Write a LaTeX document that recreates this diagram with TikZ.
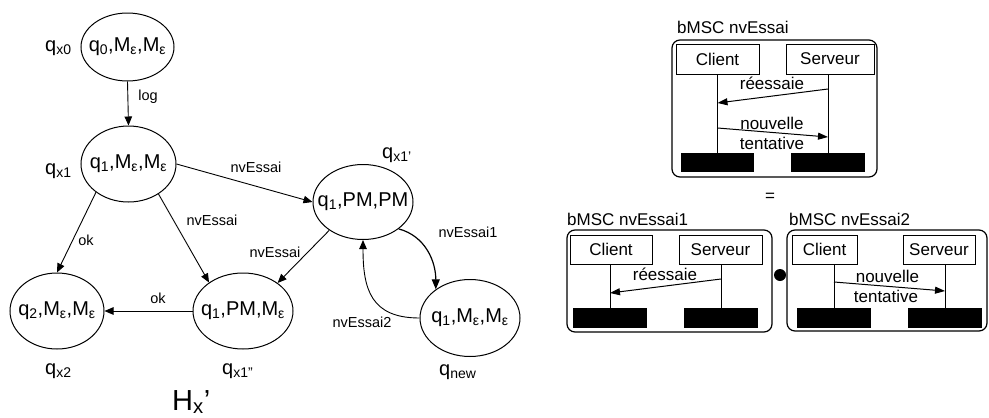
\documentclass[tikz,border=0pt]{standalone}
\usepackage{fontspec}
\setmainfont{Liberation Sans}
\usetikzlibrary{shapes.geometric,arrows.meta}
\newcommand\sbs[1]{\textsubscript{#1}}
\newcommand\zb[1]{\makebox[0pt]{#1}}
\begin{document}
\begin{tikzpicture}[x=1pt,y=-1pt,
  st/.style={ellipse,draw,line width=1pt,inner sep=0pt,minimum width=95pt,minimum height=76pt,font=\fontsize{20}{24}\selectfont},
  ql/.style={anchor=base west,inner sep=0pt,font=\fontsize{20}{24}\selectfont},
  el/.style={inner sep=0pt,font=\fontsize{14.5}{17}\selectfont},
  tr/.style={draw,line width=0.9pt,-{Triangle[length=9pt,width=7.5pt]}},
  ml/.style={inner sep=0pt,font=\fontsize{17}{20}\selectfont},
  mframe/.style={draw,line width=1.2pt,rounded corners=8pt,inner sep=0pt},
  inst/.style={draw,line width=1pt,inner sep=0pt,minimum height=29pt,font=\fontsize{17}{20}\selectfont},
  bar/.style={fill=black,inner sep=0pt,minimum height=19pt},
  life/.style={draw,line width=1pt},
  msg/.style={draw,line width=1pt,-{Triangle[length=10pt,width=7pt]}}
]
\useasboundingbox (0,0) rectangle (989,418);

% ---- state graph ----
\node[st,minimum width=93pt,minimum height=68pt] (s0) at (127.5,47) {\zb{q\sbs{0},M\sbs{ε},M\sbs{ε}}};
\node[st] (s1) at (128.5,164) {\zb{q\sbs{1},M\sbs{ε},M\sbs{ε}}};
\node[st,minimum width=94pt] (s2) at (57,311) {\zb{q\sbs{2},M\sbs{ε},M\sbs{ε}}};
\node[st,minimum width=100pt] (s3) at (243,311) {\zb{q\sbs{1},PM,M\sbs{ε}}};
\node[st,minimum width=100pt,minimum height=75pt] (s4) at (363,202) {\zb{q\sbs{1},PM,PM}};
\node[st,minimum width=100pt,minimum height=77pt] (s5) at (470,318) {\zb{q\sbs{1},M\sbs{ε},M\sbs{ε}}};

\node[ql] (l0) at (45,51) {q\sbs{x0}};
\node[ql] (l1) at (45,174) {q\sbs{x1}};
\node[ql] (l2) at (45,374) {q\sbs{x2}};
\node[ql] (l3) at (222,374) {q\sbs{x1"}};
\node[ql] (l4) at (382,158) {q\sbs{x1\char"0027}};
\node[ql] (l5) at (439,375) {q\sbs{new}};
\node[anchor=base west,inner sep=0pt,font=\fontsize{29}{34}\selectfont] (hx) at (172,410) {H\sbs{x}\char"2019};

\draw[tr] (s0.south) -- (s1.north);
\draw[tr] (s1.east) -- (s4.west);
\draw[tr] (s1.-139) -- (s2.north);
\draw[tr] (s1.-45) -- (s3.140);
\draw[tr] (s4.-140) -- (s3.39);
\draw[tr] (s3.west) -- (s2.east);
\draw[line width=1.2pt,-{Triangle[length=10pt,width=8pt]}] (s4.-37) to[out=-15,in=90] (s5.140);
\draw[tr] (s5.west) to[out=180,in=-90,looseness=1.3] (s4.south);

\node[el] (e0) at (148,97) {log};
\node[el] (e1) at (256,167) {nvEssai};
\node[el] (e2) at (86,240) {ok};
\node[el] (e3) at (212,220) {nvEssai};
\node[el] (e4) at (275,252) {nvEssai};
\node[el] (e5) at (158,298) {ok};
\node[el] (e6) at (468,232) {nvEssai1};
\node[el] (e7) at (362,322) {nvEssai2};

% ---- bMSC nvEssai ----
\node[ml,anchor=base west] (t0) at (677,33) {bMSC nvEssai};
\node[mframe,minimum width=205pt,minimum height=137pt] (f0) at (774.5,108.5) {};
\node[inst,minimum width=83pt,minimum height=30pt] (c0) at (717.5,59) {Client};
\node[inst,minimum width=88pt,minimum height=30pt] (v0) at (830,59) {Serveur};
\node[bar,minimum width=73pt] (cb0) at (717.5,162.5) {};
\node[bar,minimum width=74pt] (vb0) at (828,162.5) {};
\draw[life] (cb0.north) -- (cb0.north |- c0.south);
\draw[life] (vb0.north) -- (vb0.north |- v0.south);
\coordinate (a0) at (828,89);
\coordinate (b0) at (717.5,103);
\coordinate (a1) at (717.5,128);
\coordinate (b1) at (828,137);
\draw[msg] (a0) -- (b0);
\draw[msg] (a1) -- (b1);
\node[ml,anchor=base] (m0) at (772,89) {réessaie};
\node[ml,anchor=base] (m1) at (772,129.5) {nouvelle};
\node[ml,anchor=base] (m2) at (772,149) {tentative};

\node[ml] (eq) at (770,197) {=};

% ---- bMSC nvEssai1 ----
\node[ml,anchor=base west] (t1) at (567,225) {bMSC nvEssai1};
\node[mframe,minimum width=205pt,minimum height=102pt] (f1) at (669.5,281) {};
\node[inst,minimum width=82pt] (c1) at (611,249.5) {Client};
\node[inst,minimum width=83pt] (v1) at (720.5,249.5) {Serveur};
\node[bar,minimum width=74pt,minimum height=20pt] (cb1) at (610,318) {};
\node[bar,minimum width=74pt,minimum height=20pt] (vb1) at (721,318) {};
\draw[life] (cb1.north) -- (cb1.north |- c1.south);
\draw[life] (vb1.north) -- (vb1.north |- v1.south);
\coordinate (a2) at (721,279);
\coordinate (b2) at (610,293);
\draw[msg] (a2) -- (b2);
\node[ml,anchor=base] (m3) at (665,280) {réessaie};

\fill (780,275) circle (6pt) coordinate (dot);

% ---- bMSC nvEssai2 ----
\node[ml,anchor=base west] (t2) at (789,225) {bMSC nvEssai2};
\node[mframe,minimum width=200pt,minimum height=101pt] (f2) at (887,280.5) {};
\node[inst,minimum width=65pt] (c2) at (824.5,249.5) {Client};
\node[inst,minimum width=72pt] (v2) at (939,249.5) {Serveur};
\node[bar,minimum width=74pt,minimum height=20pt] (cb2) at (834,318) {};
\node[bar,minimum width=74pt,minimum height=20pt] (vb2) at (945,318) {};
\draw[life] (cb2.north) -- (cb2.north |- c2.south);
\draw[life] (vb2.north) -- (vb2.north |- v2.south);
\coordinate (a3) at (834,282);
\coordinate (b3) at (945,291);
\draw[msg] (a3) -- (b3);
\node[ml,anchor=base] (m4) at (887.5,282) {nouvelle};
\node[ml,anchor=base] (m5) at (886,302) {tentative};
\end{tikzpicture}
\end{document}
